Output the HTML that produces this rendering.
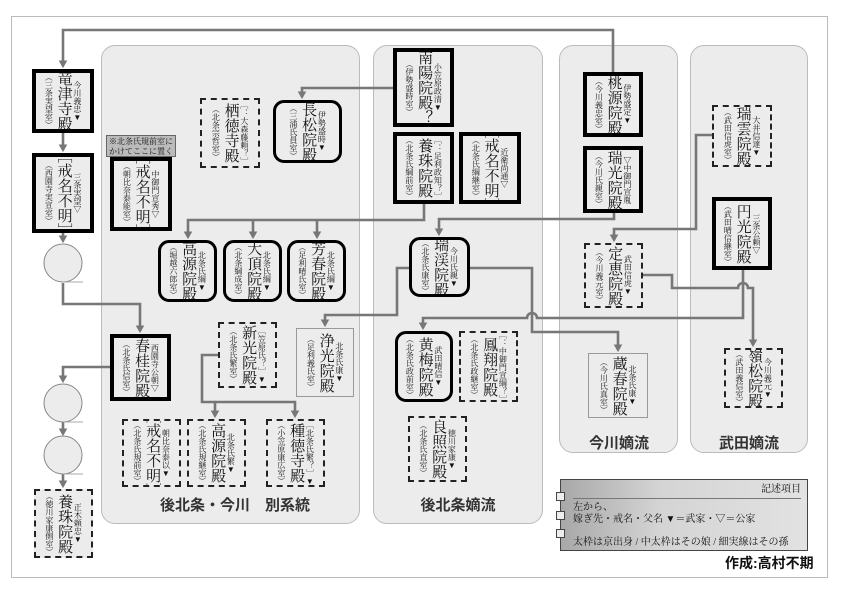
<!DOCTYPE html>
<html><head><meta charset="utf-8">
<style>
*{box-sizing:border-box;margin:0;padding:0}
body{width:842px;height:595px;background:#fff;position:relative;overflow:hidden;font-family:"Liberation Serif","Noto Serif CJK SC","Noto Sans CJK JP",serif;color:#111}
.frame{position:absolute;left:11px;top:16px;width:817px;height:562px;border:1px solid #bbb}
.panel{position:absolute;background:#ececec;border:1px solid #bbb;border-radius:14px}
.plabel{position:absolute;font-family:"Liberation Sans","Noto Sans CJK JP",sans-serif;font-weight:bold;font-size:15px;color:#333;text-align:center;white-space:nowrap}
.n{position:absolute;writing-mode:vertical-rl;display:flex;flex-direction:column;justify-content:center;align-items:center;background:#ececec;overflow:hidden}
.n span{display:block;text-align:center;white-space:nowrap;line-height:1.15}
.s{font-size:8px}
.m{font-size:15px;margin:0 1px}
.t{border:4px solid #000}
.r{border:3px solid #000;border-radius:11px}
.d{border:2px dashed #222}
.th{border:1px solid #999}
svg{position:absolute;left:0;top:0}
</style></head><body>
<div class="frame"></div>
<div class="panel" style="left:101px;top:45px;width:259px;height:479px"></div>
<div class="panel" style="left:373px;top:45px;width:170px;height:479px"></div>
<div class="panel" style="left:559px;top:45px;width:119px;height:408px"></div>
<div class="panel" style="left:690px;top:45px;width:118px;height:408px"></div>
<div class="plabel" style="left:150px;top:494px;width:170px">後北条・今川　別系統</div>
<div class="plabel" style="left:400px;top:494px;width:116px">後北条嫡流</div>
<div class="plabel" style="left:570px;top:432px;width:98px">今川嫡流</div>
<div class="plabel" style="left:700px;top:432px;width:98px">武田嫡流</div>

<svg width="842" height="595" viewBox="0 0 842 595">
<defs><marker id="a" markerWidth="4" markerHeight="4" refX="2.2" refY="2" orient="auto" markerUnits="strokeWidth"><path d="M0,0.3 L3,2 L0,3.7z" fill="#777"/></marker></defs>
<g fill="none" stroke="#777" stroke-width="2.6" marker-end="url(#a)">
<path d="M613,72 V30 H63 V66"/>
<path d="M63,133 V150"/>
<path d="M63,233 V241"/>
<path d="M63,283 V304 H140 V331"/>
<path d="M110,367 H63 V381"/>
<path d="M63,422 V434"/>
<path d="M63,474 V486"/>
<path d="M393,88 H302 V97"/>
<path d="M424,204 V220 H188 V237"/>
<path d="M253,220 V237"/>
<path d="M317,220 V237"/>
<path d="M614,213 V219 H439 V234"/>
<path d="M409,268 H397 V315 H325 V325"/>
<path d="M470,268 H532 V332 H618 V350"/>
<path d="M743,270 V318 H537 A5,5 0 0 0 527,318 H423 V328"/>
<path d="M643,275 H672 V288 H738 A5,5 0 0 1 748,288 H753 V345"/>
<path d="M712,135 H696 V229 H614 V240"/>
<path d="M218,355 H202 V402 H215 V416"/>
<path d="M215,402 H295 V416"/>
</g>
<g fill="#ececec" stroke="#888" stroke-width="1">
<circle cx="63" cy="263" r="19"/><circle cx="63" cy="403" r="19"/><circle cx="63" cy="455" r="19"/>
</g>
<g stroke="#aaa" stroke-width="1"><path d="M63,282 H83 M63,422 H83 M63,474 H83"/></g>
</svg>

<!-- thick -->
<div class="n t" style="left:32px;top:69px;width:62px;height:64px"><span class="s">今川義忠▼</span><span class="m">竜津寺殿</span><span class="s">（三条実望室）</span></div>
<div class="n t" style="left:32px;top:153px;width:62px;height:80px"><span class="s">三条実望▽</span><span class="m">［戒名不明］</span><span class="s">（西園寺実宣室）</span></div>
<div style="position:absolute;left:106px;top:135px;width:70px;height:22px;background:#bbb;border:1px solid #666;font-size:8px;line-height:10px;text-align:center;padding-top:1px">※北条氏規前室に<br>かけてここに置く</div>
<div class="n t" style="left:110px;top:157px;width:62px;height:74px"><span class="s">中御門宣秀▽</span><span class="m">［戒名不明］</span><span class="s">（朝比奈泰能室）</span></div>
<div class="n t" style="left:110px;top:334px;width:61px;height:67px"><span class="s">西園寺公朝▽</span><span class="m">［春桂院殿］</span><span class="s">（北条氏信室）</span></div>
<div class="n t" style="left:393px;top:48px;width:61px;height:79px"><span class="s">小笠原政清▼</span><span class="m">［南陽院殿？］</span><span class="s">（伊勢盛時室）</span></div>
<div class="n t" style="left:393px;top:132px;width:61px;height:72px"><span class="s">［：足利政知？］</span><span class="m">養珠院殿</span><span class="s">（北条氏綱前室）</span></div>
<div class="n t" style="left:459px;top:132px;width:62px;height:72px"><span class="s">近衛尚通▽</span><span class="m">［戒名不明］</span><span class="s">（北条氏綱継室）</span></div>
<div class="n t" style="left:583px;top:72px;width:60px;height:65px"><span class="s">伊勢盛定▼</span><span class="m">桃源院殿</span><span class="s">（今川義忠室）</span></div>
<div class="n t" style="left:583px;top:146px;width:60px;height:67px"><span class="s">▽中御門宣胤</span><span class="m">瑞光院殿</span><span class="s">（今川氏親室）</span></div>
<div class="n t" style="left:712px;top:197px;width:60px;height:73px"><span class="s">三条公頼▽</span><span class="m">円光院殿</span><span class="s">（武田晴信継室）</span></div>
<!-- rounded -->
<div class="n r" style="left:273px;top:100px;width:69px;height:63px"><span class="s">伊勢盛時▼</span><span class="m">長松院殿</span><span class="s">（三浦氏員室）</span></div>
<div class="n r" style="left:158px;top:240px;width:59px;height:62px"><span class="s">北条氏綱▼</span><span class="m">高源院殿</span><span class="s">（堀越六郎室）</span></div>
<div class="n r" style="left:223px;top:240px;width:59px;height:62px"><span class="s">北条氏綱▼</span><span class="m">大頂院殿</span><span class="s">（北条綱成室）</span></div>
<div class="n r" style="left:287px;top:240px;width:59px;height:62px"><span class="s">北条氏綱▼</span><span class="m">芳春院殿</span><span class="s">（足利晴氏室）</span></div>
<div class="n r" style="left:409px;top:237px;width:61px;height:60px"><span class="s">今川氏親▼</span><span class="m">瑞渓院殿</span><span class="s">（北条氏康室）</span></div>
<div class="n r" style="left:395px;top:331px;width:58px;height:71px"><span class="s">武田晴信▼</span><span class="m">黄梅院殿</span><span class="s">（北条氏政前室）</span></div>
<!-- dashed -->
<div class="n d" style="left:200px;top:98px;width:60px;height:70px"><span class="s">［：大森藤頼？］</span><span class="m">栖徳寺殿</span><span class="s">（北条宗哲室）</span></div>
<div class="n d" style="left:218px;top:322px;width:59px;height:66px"><span class="s">［笠原氏？］▼</span><span class="m">新光院殿</span><span class="s">（北条氏繁室）</span></div>
<div class="n d" style="left:122px;top:419px;width:59px;height:68px"><span class="s">朝比奈泰以▼</span><span class="m">［戒名不明］</span><span class="s">（北条氏規前室）</span></div>
<div class="n d" style="left:187px;top:419px;width:59px;height:68px"><span class="s">北条氏繁▼</span><span class="m">高源院殿</span><span class="s">（北条氏規継室）</span></div>
<div class="n d" style="left:266px;top:419px;width:59px;height:68px"><span class="s">［北条氏繁？］▼</span><span class="m">種徳寺殿</span><span class="s">（小笠原康広室）</span></div>
<div class="n d" style="left:34px;top:489px;width:59px;height:69px"><span class="s">正木頼忠▼</span><span class="m">養珠院殿</span><span class="s">（徳川家康側室）</span></div>
<div class="n d" style="left:459px;top:331px;width:59px;height:71px"><span class="s">［：中御門宣綱？］</span><span class="m">鳳翔院殿</span><span class="s">（北条氏政継室）</span></div>
<div class="n d" style="left:408px;top:416px;width:59px;height:66px"><span class="s">徳川家康▼</span><span class="m">良照院殿</span><span class="s">（北条氏直室）</span></div>
<div class="n d" style="left:712px;top:105px;width:60px;height:62px"><span class="s">大井信達▼</span><span class="m">瑞雲院殿</span><span class="s">（武田信虎室）</span></div>
<div class="n d" style="left:584px;top:243px;width:59px;height:65px"><span class="s">武田信虎▼</span><span class="m">定恵院殿</span><span class="s">（今川義元室）</span></div>
<div class="n d" style="left:724px;top:348px;width:59px;height:60px"><span class="s">今川義元▼</span><span class="m">嶺松院殿</span><span class="s">（武田義信室）</span></div>
<!-- thin -->
<div class="n th" style="left:296px;top:328px;width:58px;height:69px"><span class="s">北条氏康▼</span><span class="m">浄光院殿</span><span class="s">（足利義氏室）</span></div>
<div class="n th" style="left:588px;top:353px;width:60px;height:65px"><span class="s">北条氏康▼</span><span class="m">蔵春院殿</span><span class="s">（今川氏真室）</span></div>

<!-- legend -->
<div style="position:absolute;left:560px;top:479px;width:248px;height:72px;border:1px solid #444;background:linear-gradient(to right,#a8a8a8,#d4d4d4 40%,#e2e2e2);font-size:10px;line-height:12px">
<div style="position:absolute;right:6px;top:4px">記述項目</div>
<div style="position:absolute;left:12px;right:6px;top:18px;border-top:1px solid #777"></div>
<div style="position:absolute;left:12px;top:22px">左から、</div>
<div style="position:absolute;left:12px;top:34px">嫁ぎ先・戒名・父名 ▼＝武家・▽＝公家</div>
<div style="position:absolute;left:12px;top:57px;white-space:nowrap">太枠は京出身 / 中太枠はその娘 / 細実線はその孫</div>
</div>
<div style="position:absolute;left:556px;top:492px;width:9px;height:9px;border:1px solid #444;background:#eee"></div>
<div style="position:absolute;left:556px;top:511px;width:9px;height:9px;border:1px solid #444;background:#eee"></div>
<div style="position:absolute;left:556px;top:529px;width:9px;height:9px;border:1px solid #444;background:#eee"></div>
<div style="position:absolute;left:725px;top:553px;font-family:'Liberation Sans','Noto Sans CJK JP',sans-serif;font-weight:bold;font-size:14px;white-space:nowrap">作成:高村不期</div>
</body></html>
